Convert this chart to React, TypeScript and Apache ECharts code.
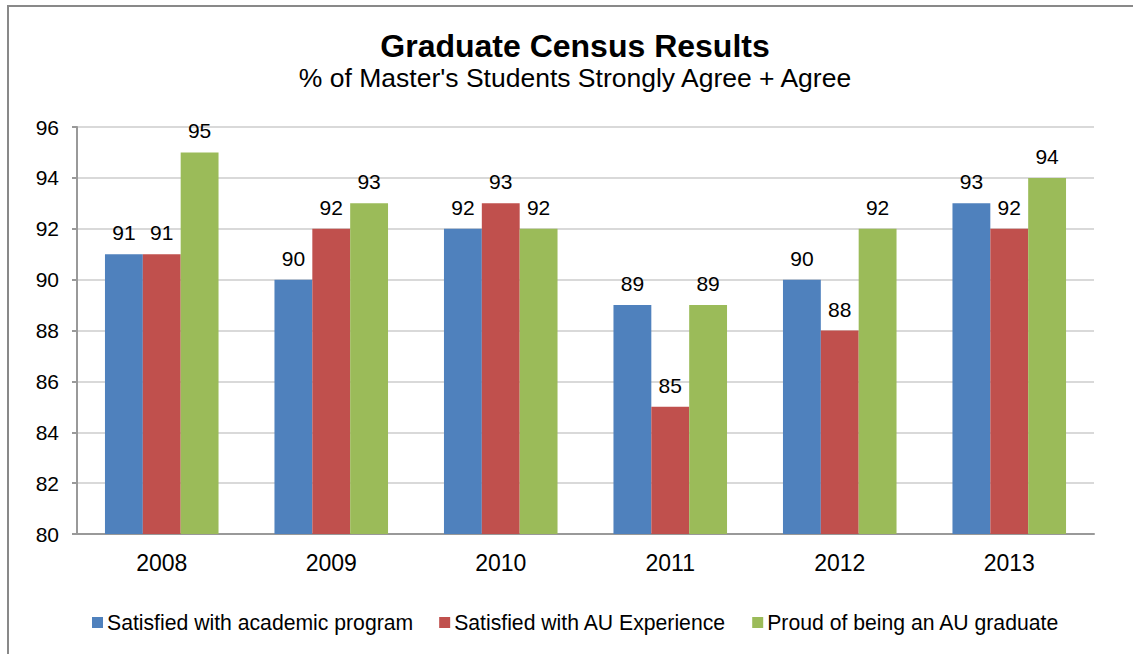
import React, { useEffect, useRef } from "react";
import * as echarts from "echarts";

const categories = ["2008", "2009", "2010", "2011", "2012", "2013"];
const academic = [91, 90, 92, 89, 90, 93];
const auExperience = [91, 92, 93, 85, 88, 92];
const proud = [95, 93, 92, 89, 92, 94];
const seriesNames = [
  "Satisfied with academic program",
  "Satisfied with AU Experience",
  "Proud of being an AU graduate",
];
const colors = ["#4F81BD", "#C0504D", "#9BBB59"];

const FONT = "'Liberation Sans', Arial, sans-serif";

export default function App() {
  const ref = useRef<HTMLDivElement>(null);
  useEffect(() => {
    if (!ref.current) return;
    const chart = echarts.init(ref.current, undefined, { renderer: "svg" });
    const values = [academic, auExperience, proud];
    chart.setOption({
      animation: false,
      backgroundColor: "#ffffff",
      textStyle: { fontFamily: FONT },
      title: {
        text: "Graduate Census Results",
        subtext: "% of Master's Students Strongly Agree + Agree",
        left: 570,
        textAlign: "center",
        top: 25,
        itemGap: 2,
        textStyle: { fontFamily: FONT, fontSize: 32, fontWeight: "bold", color: "#000" },
        subtextStyle: { fontFamily: FONT, fontSize: 26.5, color: "#000" },
      },
      legend: {
        bottom: 21,
        left: 92,
        padding: 0,
        itemWidth: 11,
        itemHeight: 11,
        itemGap: 26,
        icon: "rect",
        textStyle: { fontFamily: FONT, fontSize: 21.2, color: "#000", padding: [0, 0, 0, -1] },
        data: seriesNames,
      },
      graphic: [
        {
          type: "rect",
          shape: { x: 8, y: 6, width: 1160, height: 700 },
          style: { fill: "none", stroke: "#898989", lineWidth: 2 },
          silent: true,
        },
      ],
      grid: { left: 77, right: 39, top: 127, bottom: 120, containLabel: false },
      xAxis: {
        type: "category",
        data: categories,
        axisLine: { lineStyle: { color: "#999", width: 2 } },
        axisTick: { show: false },
        axisLabel: { fontFamily: FONT, fontSize: 23, color: "#000", margin: 17 },
      },
      yAxis: {
        type: "value",
        min: 80,
        max: 96,
        interval: 2,
        axisLine: { show: true, lineStyle: { color: "#999", width: 2 } },
        axisTick: { show: true, length: 5, lineStyle: { color: "#999", width: 2 } },
        axisLabel: { fontFamily: FONT, fontSize: 21, color: "#000", margin: 18 },
        splitLine: { lineStyle: { color: "#d9d9d9", width: 2 } },
      },
      series: seriesNames.map((name, i) => ({
        name,
        type: "bar",
        data: values[i],
        barGap: "0%",
        barCategoryGap: "33%",
        itemStyle: { color: colors[i] },
        label: {
          show: true,
          position: "top",
          distance: 11,
          fontFamily: FONT,
          fontSize: 21,
          color: "#000",
        },
      })),
    });
    return () => chart.dispose();
  }, []);
  return (
    <div
      ref={ref}
      style={{ position: "absolute", left: 0, top: 0, width: 1133, height: 654 }}
    />
  );
}
